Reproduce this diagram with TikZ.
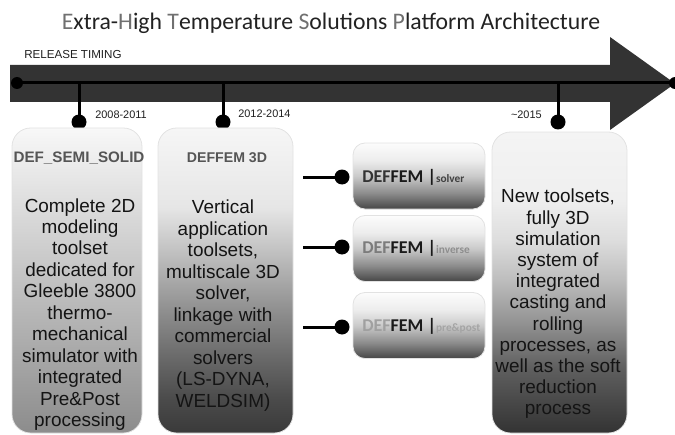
\documentclass[tikz,border=0pt]{standalone}
\usepackage{fontspec}
\setmainfont{Liberation Sans}
\newfontfamily\calfont{Carlito}
\newcommand\subfontA{\calfont\bfseries\fontsize{8.5pt}{10pt}\selectfont}
\definecolor{arrowgray}{HTML}{333333}
\definecolor{boxedge}{HTML}{E2E2E2}
\definecolor{headgray}{HTML}{555555}
\definecolor{tdark}{HTML}{222222}
\definecolor{tlight}{HTML}{707070}
\definecolor{aTop}{HTML}{F8F8F8}
\definecolor{aBot}{HTML}{8C8C8C}
\definecolor{bTop}{HTML}{F6F6F6}
\definecolor{bS1}{HTML}{E6E6E6}
\definecolor{bS2}{HTML}{C2C2C2}
\definecolor{bS3}{HTML}{8C8C8C}
\definecolor{bS4}{HTML}{6A6A6A}
\definecolor{bS5}{HTML}{4A4A4A}
\definecolor{bBot}{HTML}{3A3A3A}
\definecolor{cTop}{HTML}{F4F4F4}
\definecolor{cS1}{HTML}{EFEFEF}
\definecolor{cS2}{HTML}{DDDDDD}
\definecolor{cS3}{HTML}{BBBBBB}
\definecolor{cS4}{HTML}{909090}
\definecolor{cS5}{HTML}{606060}
\definecolor{cBot}{HTML}{333333}
\definecolor{sTop}{HTML}{FCFCFC}
\definecolor{sS1}{HTML}{EDEDED}
\definecolor{sS2}{HTML}{CACACA}
\definecolor{sS3}{HTML}{8C8C8C}
\definecolor{sBot}{HTML}{464646}
\definecolor{defA}{HTML}{333333}
\definecolor{defB}{HTML}{7C7C7C}
\definecolor{defC}{HTML}{A0A0A0}
\definecolor{femcol}{HTML}{1A1A1A}
\definecolor{subA}{HTML}{404040}
\definecolor{subB}{HTML}{8E8E8E}
\definecolor{subC}{HTML}{A4A4A4}
\pgfdeclareverticalshading{shadeone}{100bp}{color(0bp)=(aBot); color(25bp)=(aBot); color(75bp)=(aTop); color(100bp)=(aTop)}
\pgfdeclareverticalshading{shadetwo}{100bp}{color(0bp)=(bBot); color(25bp)=(bBot); color(30.4bp)=(bS5); color(37.5bp)=(bS4); color(44.5bp)=(bS3); color(55bp)=(bS2); color(62bp)=(bS1); color(75bp)=(bTop); color(100bp)=(bTop)}
\pgfdeclareverticalshading{shadethree}{100bp}{color(0bp)=(cBot); color(25bp)=(cBot); color(36bp)=(cS5); color(43bp)=(cS4); color(50bp)=(cS3); color(57bp)=(cS2); color(64bp)=(cS1); color(75bp)=(cTop); color(100bp)=(cTop)}
\pgfdeclareverticalshading{shadesmall}{100bp}{color(0bp)=(sBot); color(25bp)=(sBot); color(37bp)=(sS3); color(50bp)=(sS2); color(62bp)=(sS1); color(75bp)=(sTop); color(100bp)=(sTop)}
\begin{document}
\begin{tikzpicture}[x=0.75pt,y=-0.75pt,
  bigbox/.style={rounded corners=14pt, draw=boxedge, line width=0.6pt, shade, inner sep=0pt},
  smallbox/.style={rounded corners=9pt, draw=boxedge, line width=0.6pt, shade, shading=shadesmall, minimum width=99pt, minimum height=49.5pt, inner sep=0pt},
  tdot/.style={circle, fill=black, inner sep=0pt, minimum size=#1},
  tline/.style={line width=2.25pt, black},
  bodytext/.style={align=center, inner sep=0pt, font=\fontsize{14.2pt}{16.1pt}\selectfont, text=black!92},
  header/.style={inner sep=0pt, font=\bfseries\fontsize{11.4pt}{13pt}\selectfont, text=headgray},
  datetext/.style={inner sep=0pt, font=\fontsize{8.2pt}{10pt}\selectfont, text=black!88},
  femtext/.style={inner sep=0pt, anchor=west, font=\calfont\bfseries\fontsize{13.5pt}{15pt}\selectfont}
]
\useasboundingbox (0,0) rectangle (675,435);
% title
\node[inner sep=0pt, font=\calfont\fontsize{17.8pt}{20pt}\selectfont, text=tdark] (title) at (331,23)
  {\textcolor{tlight}{E}xtra-\textcolor{tlight}{H}igh \textcolor{tlight}{T}emperature \textcolor{tlight}{S}olutions \textcolor{tlight}{P}latform Architecture};
% arrow
\fill[arrowgray] (10,65) -- (610,65) -- (610,37) -- (675,83.5) -- (610,130) -- (610,102) -- (10,102) -- cycle;
\node[inner sep=0pt, anchor=west, font=\fontsize{8.7pt}{10pt}\selectfont, text=black!88] (release) at (24,55) {RELEASE TIMING};
% timeline
\node[tdot=9pt] (tstart) at (17,83) {};
\node[tdot=9pt] (tend) at (675,83) {};
\draw[tline] (tstart.center) -- (tend.center);
\coordinate (j1) at (79,83);
\coordinate (j2) at (223,83);
\coordinate (j3) at (558,83);
\node[tdot=11.25pt] (d1) at (79,122) {};
\node[tdot=11.25pt] (d2) at (223,122) {};
\node[tdot=11.25pt] (d3) at (558,122) {};
\draw[tline] (j1) -- (d1.center);
\draw[tline] (j2) -- (d2.center);
\draw[tline] (j3) -- (d3.center);
\node[datetext, anchor=west] (y1) at (95,115) {2008-2011};
\node[datetext, anchor=west] (y2) at (238,114) {2012-2014};
\node[datetext, anchor=east] (y3) at (542,115) {\textasciitilde 2015};
% big boxes
\node[bigbox, shading=shadeone, minimum width=97.5pt, minimum height=228.75pt] (b1) at (77,280.5) {};
\node[bigbox, shading=shadetwo, minimum width=101.25pt, minimum height=228.75pt] (b2) at (225.5,280.5) {};
\node[bigbox, shading=shadethree, minimum width=101.25pt, minimum height=225.75pt] (b3) at (559.5,282.5) {};
\node[header] (h1) at (79,158) {DEF\_SEMI\_SOLID};
\node[header, font=\bfseries\fontsize{10.6pt}{13pt}\selectfont] (h2) at (227,158) {DEFFEM 3D};
\node[bodytext] (t1) at (80,314.5) {Complete 2D\\modeling\\toolset\\dedicated for\\Gleeble 3800\\thermo-\\mechanical\\simulator with\\integrated\\Pre\&Post\\processing};
\node[bodytext] (t2) at (223,305.5) {Vertical\\application\\toolsets,\\multiscale 3D\\solver,\\linkage with\\commercial\\solvers\\(LS-DYNA,\\WELDSIM)};
\node[bodytext, font=\fontsize{14.2pt}{15.9pt}\selectfont] (t3) at (558,304) {New toolsets,\\fully 3D\\simulation\\system of\\integrated\\casting and\\rolling\\processes, as\\well as the soft\\reduction\\process};
% small boxes
\node[smallbox] (s1) at (419,176) {};
\node[smallbox] (s2) at (419,248.5) {};
\node[smallbox] (s3) at (419,325.5) {};
\node[femtext] (f1) at (362,177) {\textcolor{defA}{DEF}\textcolor{femcol}{FEM} \textcolor{femcol}{|}{\subfontA\textcolor{subA}{solver}}};
\node[femtext] (f2) at (362,248) {\textcolor{defB}{DEF}\textcolor{femcol}{FEM} \textcolor{femcol}{|}{\subfontA\textcolor{subB}{inverse}}};
\node[femtext] (f3) at (362,326) {\textcolor{defC}{DEF}\textcolor{femcol}{FEM} \textcolor{femcol}{|}{\subfontA\textcolor{subC}{pre\&post}}};
% connectors
\coordinate (c1) at (303,177);
\coordinate (c2) at (303,247);
\coordinate (c3) at (303,327);
\node[tdot=11.25pt] (e1) at (342,177) {};
\node[tdot=11.25pt] (e2) at (342,247) {};
\node[tdot=11.25pt] (e3) at (342,327) {};
\draw[tline] (c1) -- (e1.center);
\draw[tline] (c2) -- (e2.center);
\draw[tline] (c3) -- (e3.center);
\end{tikzpicture}
\end{document}
